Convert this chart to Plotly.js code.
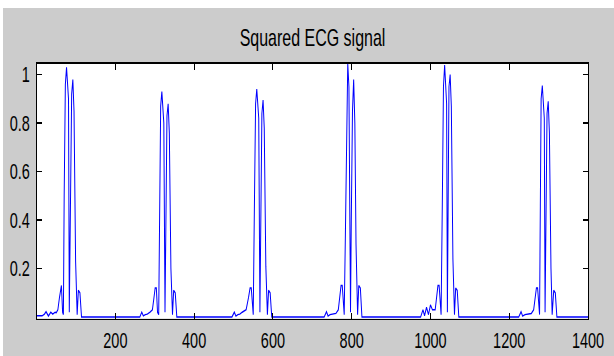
<!DOCTYPE html>
<html>
<head>
<meta charset="utf-8">
<script src="https://cdn.plot.ly/plotly-3.0.1.min.js"></script>
<style>
  html, body { margin: 0; padding: 0; background: #ffffff; width: 614px; height: 356px; overflow: hidden; }
  #wrap { position: absolute; left: 3px; top: 8px; width: 611px; height: 348px; background: #cccccc; }
  #chart { position: absolute; left: 0; top: 0; width: 611px; height: 232px; transform: scaleY(1.5); transform-origin: 0 0; }
</style>
</head>
<body>
<div id="wrap"><div id="chart"></div></div>
<script>
// Squared ECG signal: sample index (x) and squared amplitude (y), one array pair per beat
const beat1X = [1, 14, 20, 24, 30, 36, 41, 47, 50, 54, 58, 61, 63, 66, 68, 70, 73, 76, 79, 81, 83, 86, 89, 92, 95, 99, 103, 106, 110, 114];
const beat1Y = [0.005, 0.005, 0.012, 0.022, 0.004, 0.02, 0.012, 0.02, 0.018, 0.03, 0.08, 0.125, 0.13, 0.02, 0.01, 0.50, 0.96, 1.03, 0.93, 0.90, 0.02, 0.42, 0.92, 0.98, 0.85, 0.23, 0.01, 0.11, 0.10, 0];

const beat2X = [262, 267, 271, 276, 281, 288, 294, 298, 301, 304, 307, 310, 312, 315, 318, 321, 323, 326, 328, 331, 334, 337, 341, 345, 348, 352, 356];
const beat2Y = [0, 0.02, 0.005, 0.01, 0.012, 0.02, 0.03, 0.08, 0.12, 0.12, 0.02, 0.01, 0.45, 0.87, 0.93, 0.85, 0.80, 0.02, 0.38, 0.83, 0.88, 0.76, 0.2, 0.01, 0.11, 0.10, 0];

const beat3X = [496, 502, 506, 511, 516, 522, 532, 538, 542, 545, 548, 550, 553, 556, 559, 562, 564, 567, 569, 572, 575, 578, 582, 586, 589, 593, 597];
const beat3Y = [0, 0.02, 0.004, 0.01, 0.012, 0.02, 0.03, 0.08, 0.12, 0.12, 0.02, 0.01, 0.46, 0.88, 0.94, 0.86, 0.82, 0.02, 0.38, 0.84, 0.895, 0.78, 0.21, 0.01, 0.11, 0.10, 0];

const beat4X = [730, 736, 740, 745, 752, 760, 766, 770, 773, 776, 779, 781, 784, 787, 790, 793, 795, 797, 799, 802, 805, 808, 811, 815, 818, 822, 826];
const beat4Y = [0, 0.022, 0.004, 0.01, 0.012, 0.015, 0.03, 0.08, 0.13, 0.13, 0.02, 0.01, 0.34, 0.85, 1.046, 0.95, 0.55, 0.02, 0.40, 0.85, 0.98, 0.80, 0.30, 0.01, 0.13, 0.12, 0];

const beat5X = [975, 981, 985, 990, 995, 1000, 1005, 1012, 1016, 1019, 1022, 1025, 1027, 1030, 1033, 1036, 1039, 1041, 1043, 1044, 1047, 1050, 1053, 1057, 1061, 1064, 1068, 1072];
const beat5Y = [0, 0.03, 0.005, 0.04, 0.01, 0.05, 0.03, 0.03, 0.08, 0.13, 0.13, 0.02, 0.01, 0.45, 0.95, 1.04, 0.93, 0.88, 0.02, 0.40, 0.95, 1.0, 0.87, 0.24, 0.01, 0.12, 0.11, 0];

const beat6X = [1224, 1230, 1234, 1240, 1248, 1256, 1262, 1266, 1269, 1272, 1275, 1277, 1279, 1281, 1284, 1287, 1289, 1291, 1293, 1296, 1299, 1302, 1306, 1309, 1313, 1317, 1321, 1400];
const beat6Y = [0, 0.022, 0.004, 0.01, 0.012, 0.015, 0.03, 0.08, 0.12, 0.12, 0.02, 0.01, 0.46, 0.90, 0.955, 0.87, 0.82, 0.02, 0.40, 0.84, 0.89, 0.76, 0.20, 0.01, 0.11, 0.10, 0, 0];

const xTicks = [200, 400, 600, 800, 1000, 1200, 1400];
const yTicks = [0.2, 0.4, 0.6, 0.8, 1];
const titleText = 'Squared ECG signal';

const xs = [].concat(beat1X, beat2X, beat3X, beat4X, beat5X, beat6X);
const ys = [].concat(beat1Y, beat2Y, beat3Y, beat4Y, beat5Y, beat6Y);

const font = { family: 'Liberation Sans, Arial, sans-serif', size: 14.5, color: '#000000' };

const axisCommon = {
  showline: true, linecolor: '#000000', linewidth: 1.3, mirror: 'ticks',
  ticks: 'inside', tickcolor: '#000000', tickwidth: 1,
  showgrid: false, zeroline: false, tickfont: font, fixedrange: true
};

const layout = {
  width: 611, height: 232,
  margin: { l: 34, r: 25.5, t: 36.7, b: 25.3, pad: 0 },
  paper_bgcolor: '#cccccc', plot_bgcolor: '#ffffff',
  showlegend: false,
  title: { text: titleText, font: { family: 'Liberation Sans, Arial, sans-serif', size: 16, color: '#000000' },
           x: 0.5, xanchor: 'center', xref: 'paper', y: 1 - 20 / 232, yref: 'container', yanchor: 'middle' },
  xaxis: Object.assign({}, axisCommon, { range: [1, 1400], tickvals: xTicks, ticktext: xTicks.map(String), ticklen: 4, ticklabelstandoff: 1 }),
  yaxis: Object.assign({}, axisCommon, { range: [-0.006, 1.046], tickvals: yTicks, ticktext: yTicks.map(String), ticklen: 5, ticklabelstandoff: 3 })
};

Plotly.newPlot('chart', [{
  x: xs, y: ys, type: 'scatter', mode: 'lines',
  line: { color: '#0000ff', width: 1 }, hoverinfo: 'skip'
}], layout, { staticPlot: true, displayModeBar: false });
</script>
</body>
</html>
